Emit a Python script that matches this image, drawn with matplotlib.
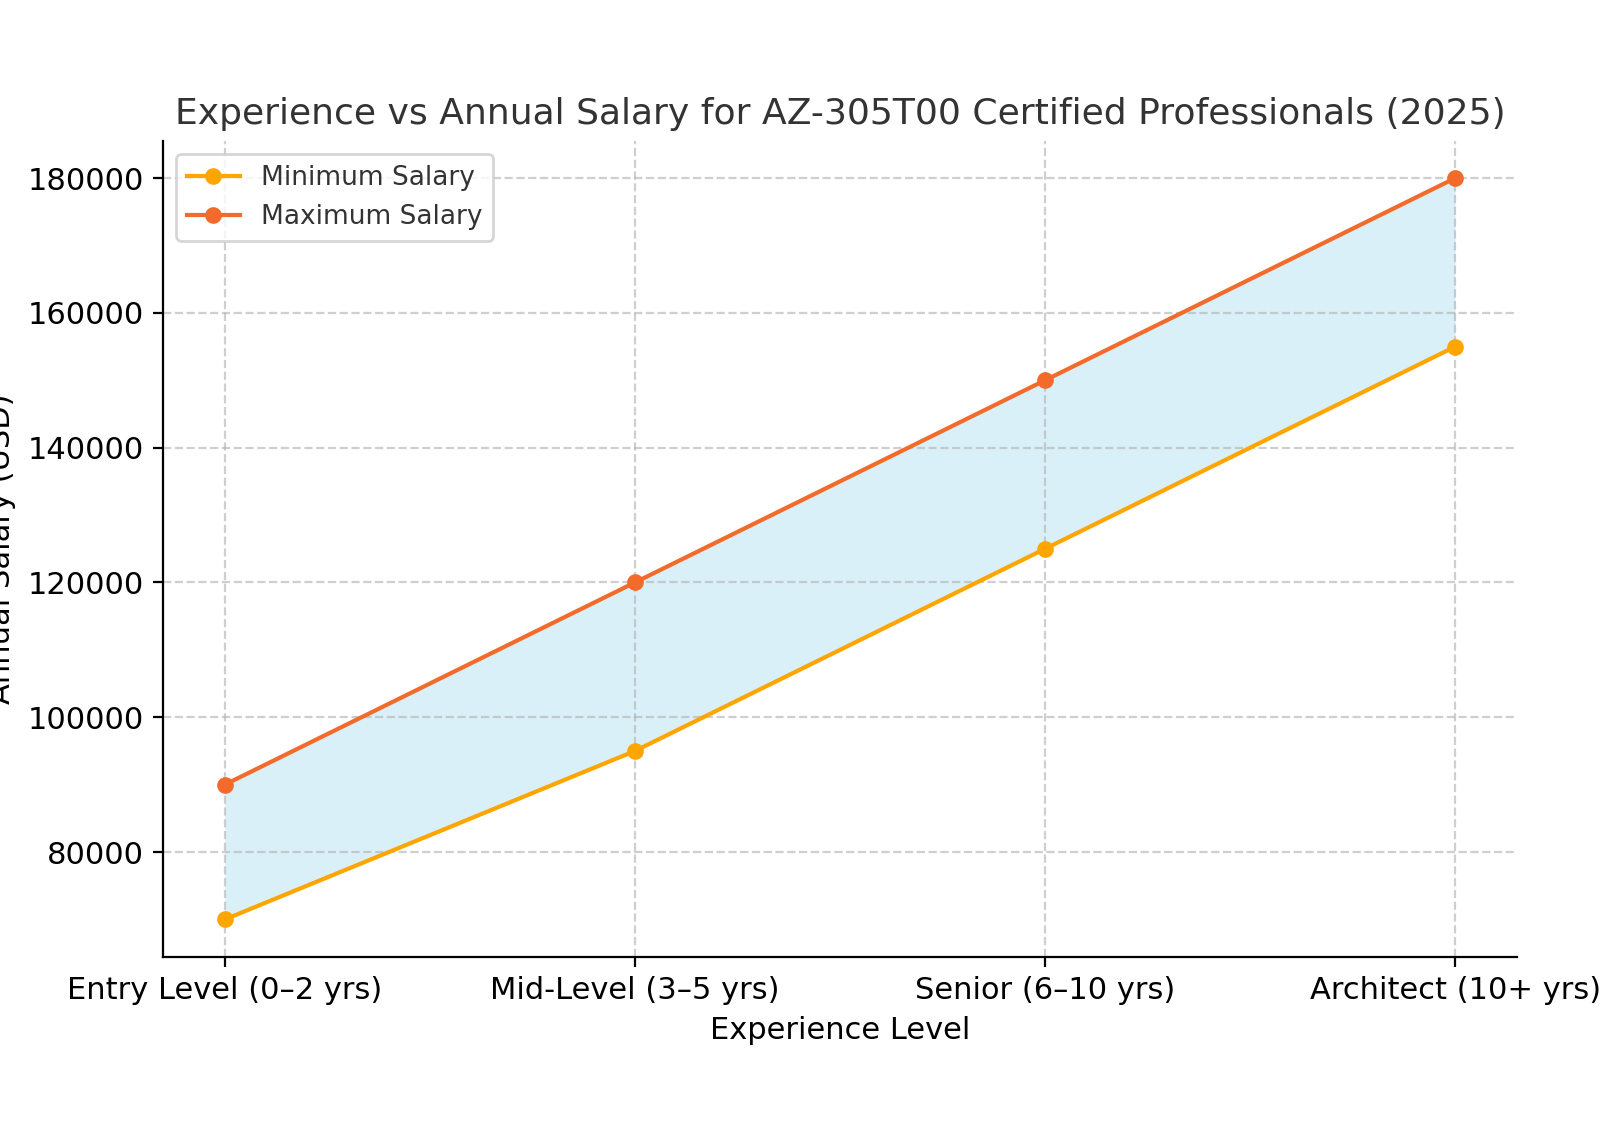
import matplotlib
matplotlib.use("Agg")
import matplotlib.pyplot as plt

levels = ["Entry Level (0–2 yrs)", "Mid-Level (3–5 yrs)", "Senior (6–10 yrs)", "Architect (10+ yrs)"]
min_salary = [70000, 95000, 125000, 155000]
max_salary = [90000, 120000, 150000, 180000]

fig = plt.figure(figsize=(8, 5.64), dpi=200)
ax = fig.add_axes([0.102, 0.152, 0.846, 0.723])
x = range(len(levels))
ax.fill_between(x, min_salary, max_salary, color="#87CEEB", alpha=0.3, linewidth=0)
ax.plot(x, min_salary, marker="o", color="#FFA500", label="Minimum Salary", lw=1.5, ms=5)
ax.plot(x, max_salary, marker="o", color="#F26B2A", label="Maximum Salary", lw=1.5, ms=5)
ax.set_xticks(list(x))
ax.set_xticklabels(levels, fontsize=11)
ax.tick_params(axis="y", labelsize=11)
ax.set_title("Experience vs Annual Salary for AZ-305T00 Certified Professionals (2025)", fontsize=13, color="#333333")
ax.set_xlabel("Experience Level", fontsize=11)
ax.set_ylabel("Annual Salary (USD)", fontsize=11)
ax.grid(True, linestyle="--", alpha=0.6)
ax.spines["top"].set_visible(False)
ax.spines["right"].set_visible(False)
leg = ax.legend(loc="upper left", fontsize=9.5)
for t in leg.get_texts():
    t.set_color("#333333")
fig.savefig("out.png")
